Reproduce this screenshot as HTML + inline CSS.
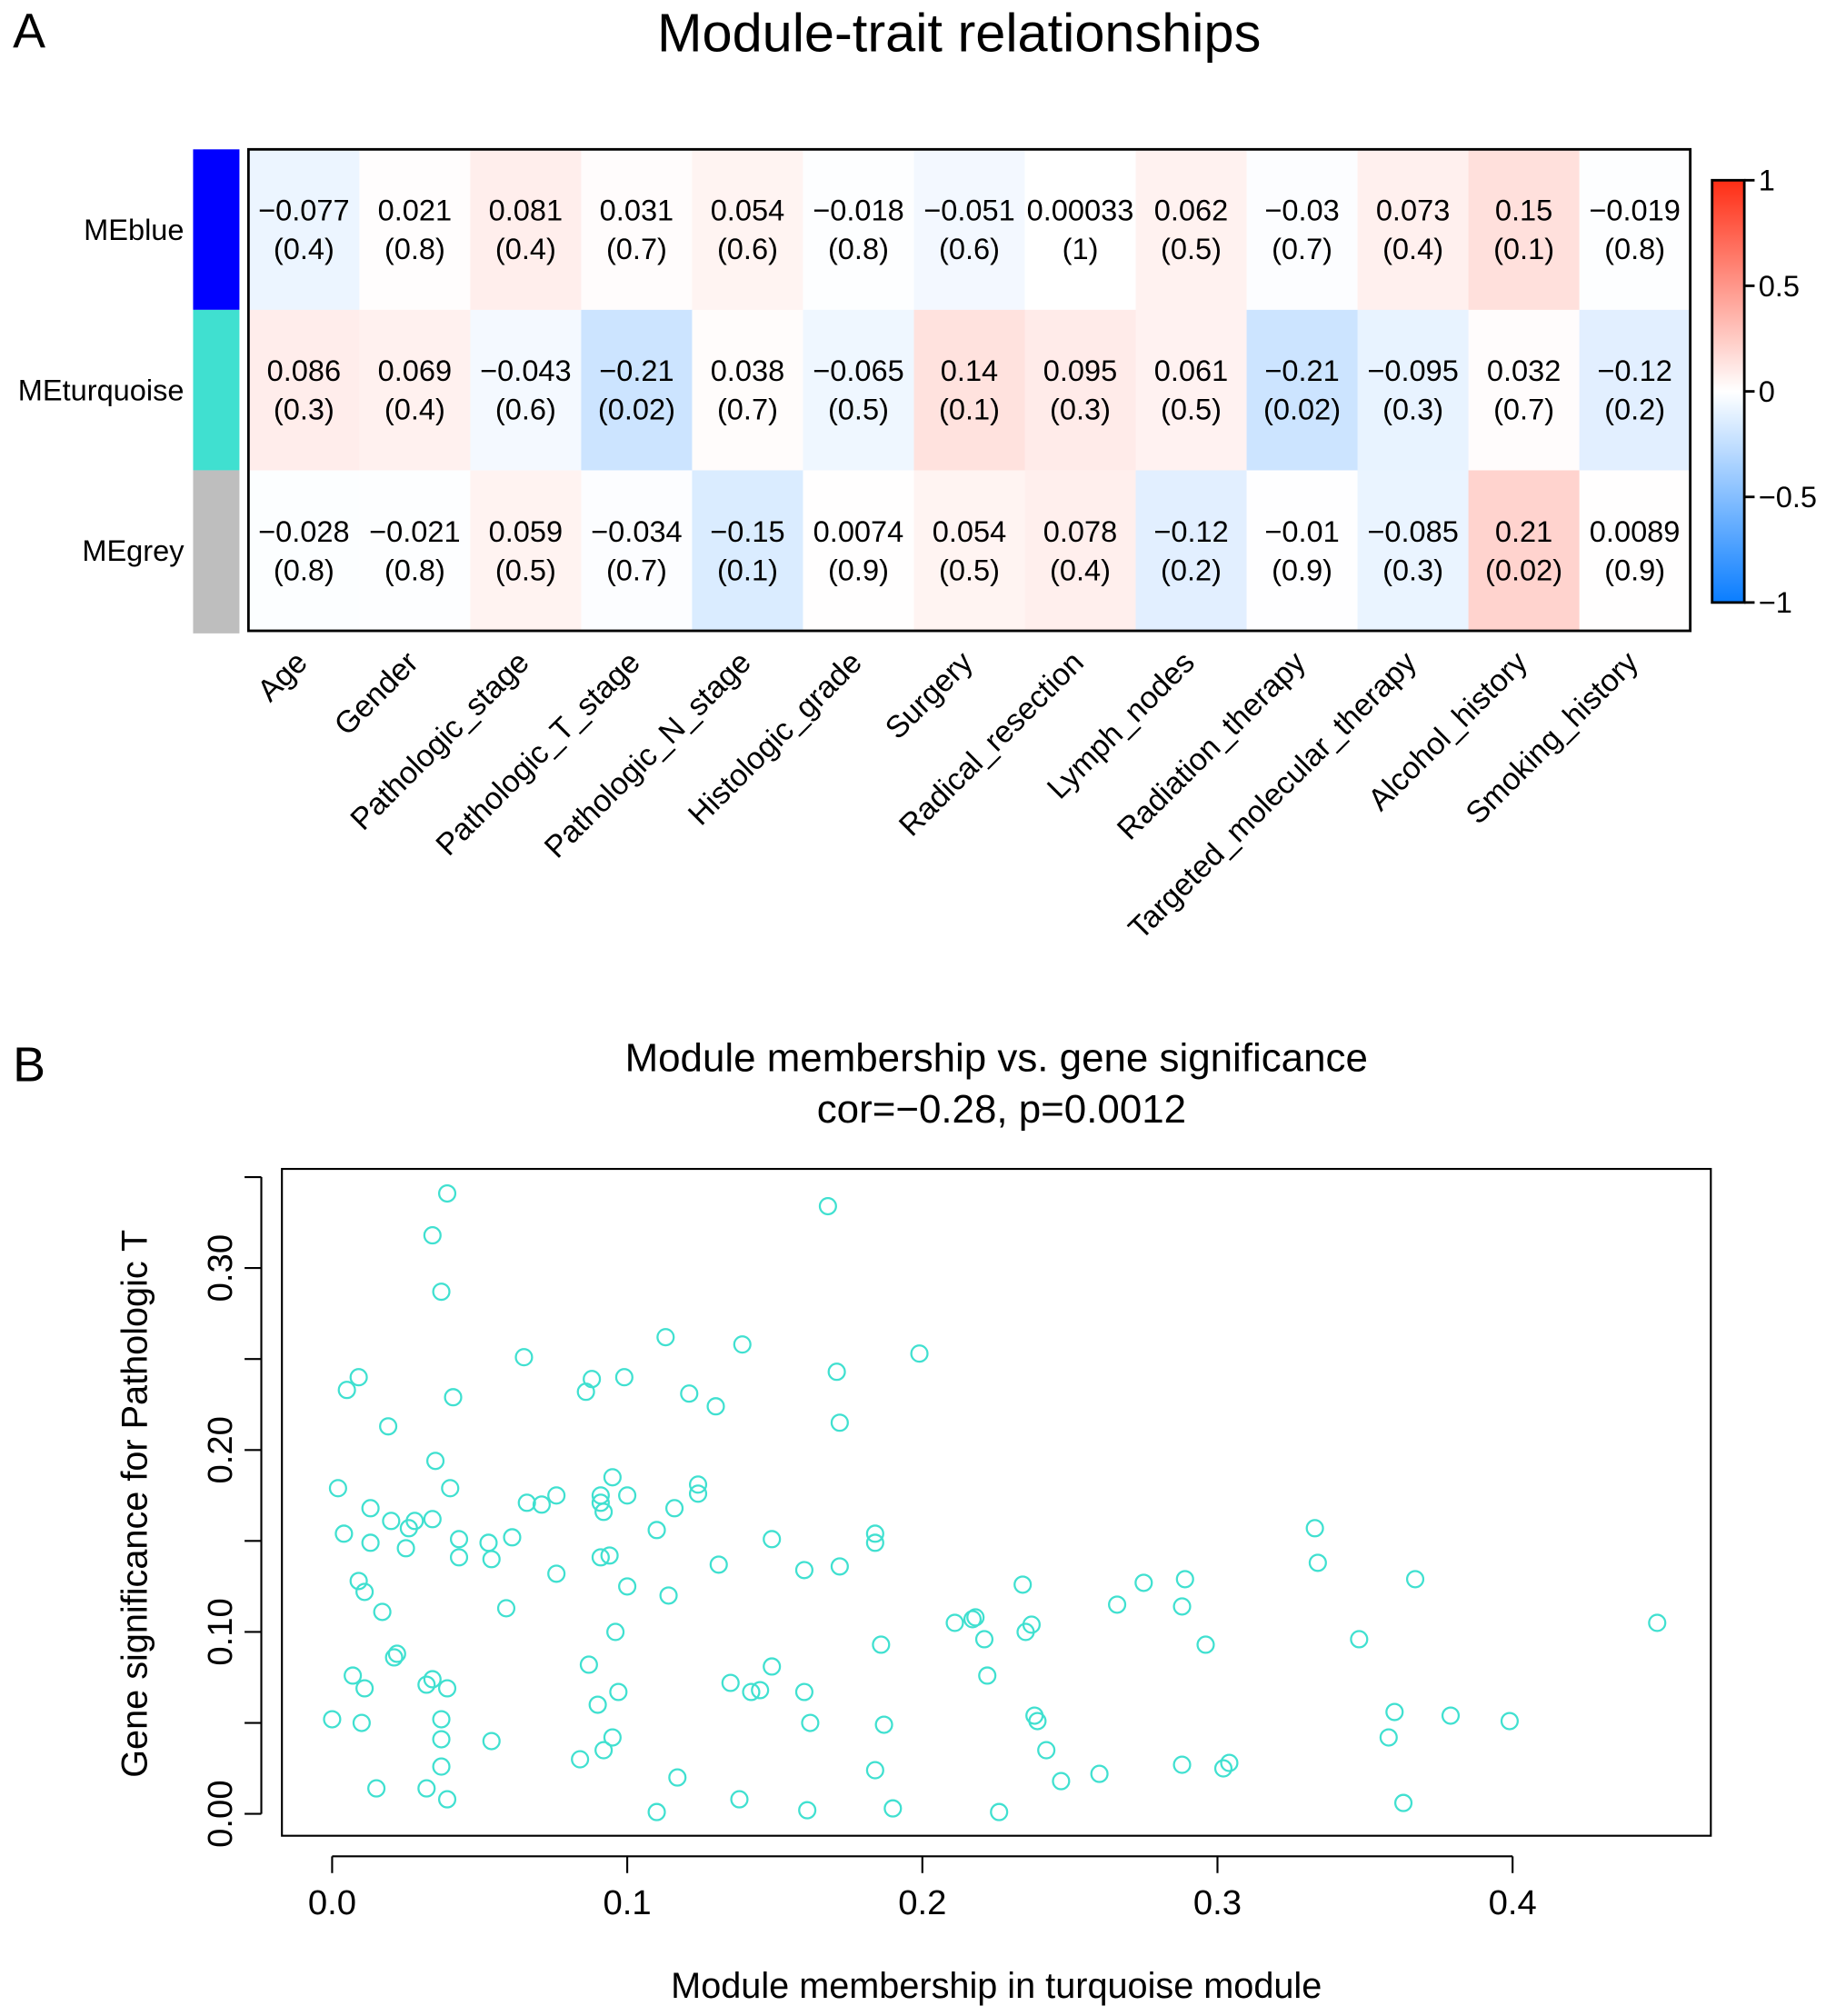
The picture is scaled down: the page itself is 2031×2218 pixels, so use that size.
<!DOCTYPE html>
<html><head><meta charset="utf-8"><style>
html,body{margin:0;padding:0;background:#fff}
svg{display:block;font-family:"Liberation Sans",sans-serif}
</style></head><body>
<svg id="fig" width="2031" height="2218" viewBox="0 0 1434 1566" xmlns="http://www.w3.org/2000/svg">
<rect width="1434" height="1566" fill="#fff"/>
<text x="10" y="37" font-size="38">A</text>
<text x="745" y="40" font-size="42" text-anchor="middle">Module-trait relationships</text>
<g id="heat"></g>
<g id="cbar"></g>
<text x="10" y="840" font-size="38">B</text>
<text x="774" y="832" font-size="31" text-anchor="middle">Module membership vs. gene significance</text>
<text x="778" y="872" font-size="31" text-anchor="middle">cor=−0.28, p=0.0012</text>
<g id="scatter"></g>
</svg>
<script>
const modules=["MEblue","MEturquoise","MEgrey"];
const moduleColors=["#0000FF","#40E0D0","#BEBEBE"];
const traits=["Age","Gender","Pathologic_stage","Pathologic_T_stage","Pathologic_N_stage","Histologic_grade","Surgery","Radical_resection","Lymph_nodes","Radiation_therapy","Targeted_molecular_therapy","Alcohol_history","Smoking_history"];
const corBlue=[-0.077,0.021,0.081,0.031,0.054,-0.018,-0.051,0.00033,0.062,-0.03,0.073,0.15,-0.019];
const corTurq=[0.086,0.069,-0.043,-0.21,0.038,-0.065,0.14,0.095,0.061,-0.21,-0.095,0.032,-0.12];
const corGrey=[-0.028,-0.021,0.059,-0.034,-0.15,0.0074,0.054,0.078,-0.12,-0.01,-0.085,0.21,0.0089];
const corLabels=[["−0.077","0.021","0.081","0.031","0.054","−0.018","−0.051","0.00033","0.062","−0.03","0.073","0.15","−0.019"],["0.086","0.069","−0.043","−0.21","0.038","−0.065","0.14","0.095","0.061","−0.21","−0.095","0.032","−0.12"],["−0.028","−0.021","0.059","−0.034","−0.15","0.0074","0.054","0.078","−0.12","−0.01","−0.085","0.21","0.0089"]];
const pBlue=["0.4","0.8","0.4","0.7","0.6","0.8","0.6","1","0.5","0.7","0.4","0.1","0.8"];
const pTurq=["0.3","0.4","0.6","0.02","0.7","0.5","0.1","0.3","0.5","0.02","0.3","0.7","0.2"];
const pGrey=["0.8","0.8","0.5","0.7","0.1","0.9","0.5","0.4","0.2","0.9","0.3","0.02","0.9"];
const cbTicks=[1,0.5,0,-0.5,-1];
const cbTickLabels=["1","0.5","0","−0.5","−1"];

const mmX=[0.002,0.004,0.005,0.007,0.009,0.009,0.011,0.010,0.011,0.013,0.013,0.015,0.017,0.019,0.020,0.021,0.022,0.025,0.026,0.028,0.032,0.032,0.034,0.034,0.034,0.035,0.037,0.037,0.037,0.037,0.039,0.039,0.039,0.040,0.041,0.043,0.043,0.000,0.053,0.054,0.054,0.059,0.061,0.065,0.066,0.071,0.076,0.076,0.084,0.086,0.087,0.088,0.090,0.091,0.091,0.091,0.092,0.092,0.094,0.095,0.095,0.096,0.097,0.099,0.100,0.100,0.110,0.110,0.113,0.114,0.116,0.117,0.121,0.124,0.124,0.130,0.131,0.135,0.138,0.139,0.142,0.145,0.149,0.149,0.160,0.160,0.161,0.162,0.168,0.171,0.172,0.172,0.184,0.184,0.184,0.186,0.187,0.190,0.199,0.211,0.217,0.218,0.221,0.222,0.226,0.234,0.235,0.237,0.238,0.239,0.242,0.247,0.260,0.266,0.275,0.288,0.289,0.288,0.296,0.302,0.304,0.333,0.334,0.348,0.358,0.360,0.363,0.367,0.379,0.399,0.449];
const gsY=[0.179,0.154,0.233,0.076,0.240,0.128,0.122,0.050,0.069,0.168,0.149,0.014,0.111,0.213,0.161,0.086,0.088,0.146,0.157,0.161,0.014,0.071,0.318,0.162,0.074,0.194,0.287,0.052,0.041,0.026,0.341,0.069,0.008,0.179,0.229,0.141,0.151,0.052,0.149,0.040,0.140,0.113,0.152,0.251,0.171,0.170,0.175,0.132,0.030,0.232,0.082,0.239,0.060,0.141,0.175,0.171,0.166,0.035,0.142,0.185,0.042,0.100,0.067,0.240,0.175,0.125,0.156,0.001,0.262,0.120,0.168,0.020,0.231,0.181,0.176,0.224,0.137,0.072,0.008,0.258,0.067,0.068,0.151,0.081,0.134,0.067,0.002,0.050,0.334,0.243,0.136,0.215,0.154,0.149,0.024,0.093,0.049,0.003,0.253,0.105,0.107,0.108,0.096,0.076,0.001,0.126,0.100,0.104,0.054,0.051,0.035,0.018,0.022,0.115,0.127,0.114,0.129,0.027,0.093,0.025,0.028,0.157,0.138,0.096,0.042,0.056,0.006,0.129,0.054,0.051,0.105];
const xTicks=[0,0.1,0.2,0.3,0.4];
const xTickLabels=["0.0","0.1","0.2","0.3","0.4"];
const yTicks=[0,0.05,0.1,0.15,0.2,0.25,0.3,0.35];
const yTickLabels=["0.00","","0.10","","0.20","","0.30",""];

const NS="http://www.w3.org/2000/svg";
function mk(tag,attrs,parent,txt){const e=document.createElementNS(NS,tag);for(const k in attrs)e.setAttribute(k,attrs[k]);if(txt!==undefined)e.textContent=txt;parent.appendChild(e);return e;}
function col(v){let t=Math.min(1,Math.abs(v));
 if(t<0.04)t=t*0.4;
 if(v<0)return `rgb(${Math.round(255-245*t)},${Math.round(255-130*t)},255)`;
 return `rgb(255,${Math.round(255-210*t)},${Math.round(255-235*t)})`;}

const heat=document.getElementById('heat');
const hx0=193,hx1=1313,hy0=116,hy1=490;
const cw=(hx1-hx0)/traits.length, rh=(hy1-hy0)/modules.length;
const cors=[corBlue,corTurq,corGrey], ps=[pBlue,pTurq,pGrey];
modules.forEach((m,i)=>{
 const y=hy0+i*rh;
 const sb=mk('rect',{x:150,y:y,width:36,height:rh+(i==2?2:0),fill:moduleColors[i]},heat);
 
 
 const lb=mk('text',{x:143,y:y+rh/2+8,'font-size':23,'text-anchor':'end'},heat,m);
 
 
 traits.forEach((t,j)=>{
  const x=hx0+j*cw;
  const c=mk('rect',{x:x,y:y,width:cw+0.5,height:rh+0.5,fill:col(cors[i][j])},heat);
  
  
  const tv=mk('text',{x:x+cw/2,y:y+rh/2-7,'font-size':23,'text-anchor':'middle'},heat,corLabels[i][j]);
  
  
  const tp=mk('text',{x:x+cw/2,y:y+rh/2+23,'font-size':23,'text-anchor':'middle'},heat,'('+ps[i][j]+')');
  
  
 });
});
const hb=mk('rect',{x:hx0,y:hy0,width:hx1-hx0,height:hy1-hy0,fill:'none',stroke:'#000','stroke-width':2},heat);


traits.forEach((t,j)=>{
 const cx=hx0+j*cw+cw/2+4, cy=hy1+26;
 const tl=mk('text',{x:cx,y:cy,'font-size':24,'text-anchor':'end',transform:`rotate(-45 ${cx} ${cy})`},heat,t);
 
 
});

const cb=document.getElementById('cbar');
const cbx=1330,cbw=25,cbTop=140,cbBot=468;
const cbY=v=>cbTop+(1-v)/2*(cbBot-cbTop);
const grad=mk('linearGradient',{id:'g',x1:0,y1:0,x2:0,y2:1},mk('defs',{},cb));
for(let k=0;k<=40;k++){const v=1-k/20;mk('stop',{offset:k/40,'stop-color':col(v)},grad);}
const cbr=mk('rect',{x:cbx,y:cbTop,width:cbw,height:cbBot-cbTop,fill:'url(#g)',stroke:'#000','stroke-width':2},cb);


cbTicks.forEach((v,k)=>{
 const y=cbY(v);
 mk('line',{x1:cbx+cbw,x2:cbx+cbw+8,y1:y,y2:y,stroke:'#000','stroke-width':2},cb);
 const tl=mk('text',{x:cbx+cbw+11,y:y+8,'font-size':23},cb,cbTickLabels[k]);
 
 
});

const sc=document.getElementById('scatter');
const X=v=>258+v*2292.5, Y=v=>1409-v*1413.3;
const pb=mk('rect',{x:219,y:908,width:1110,height:518,fill:'none',stroke:'#000','stroke-width':1.5},sc);


mk('line',{x1:203,x2:203,y1:Y(yTicks[0]),y2:Y(yTicks[yTicks.length-1]),stroke:'#000','stroke-width':1.5},sc);
yTicks.forEach((v,k)=>{
 const y=Y(v);
 mk('line',{x1:190,x2:203,y1:y,y2:y,stroke:'#000','stroke-width':1.5},sc);
 if(yTickLabels[k]){const t=mk('text',{x:180,y:y,'font-size':27,'text-anchor':'middle',transform:`rotate(-90 180 ${y})`},sc,yTickLabels[k]);
 
 }
});
mk('line',{x1:X(xTicks[0]),x2:X(xTicks[xTicks.length-1]),y1:1442,y2:1442,stroke:'#000','stroke-width':1.5},sc);
xTicks.forEach((v,k)=>{
 const x=X(v);
 mk('line',{x1:x,x2:x,y1:1442,y2:1455,stroke:'#000','stroke-width':1.5},sc);
 const t=mk('text',{x:x,y:1487,'font-size':27,'text-anchor':'middle'},sc,xTickLabels[k]);
 
 
});
mmX.forEach((v,i)=>{
 const c=mk('circle',{cx:X(v),cy:Y(gsY[i]),r:6.3,fill:'none',stroke:'#40E0D0','stroke-width':1.6},sc);
 
 
});
const xt=mk('text',{x:774,y:1552,'font-size':28,'text-anchor':'middle'},sc,'Module membership in turquoise module');


const yt=mk('text',{x:114,y:1168,'font-size':28,'text-anchor':'middle',transform:'rotate(-90 114 1168)'},sc,'Gene significance for Pathologic T');


</script>
</body></html>
